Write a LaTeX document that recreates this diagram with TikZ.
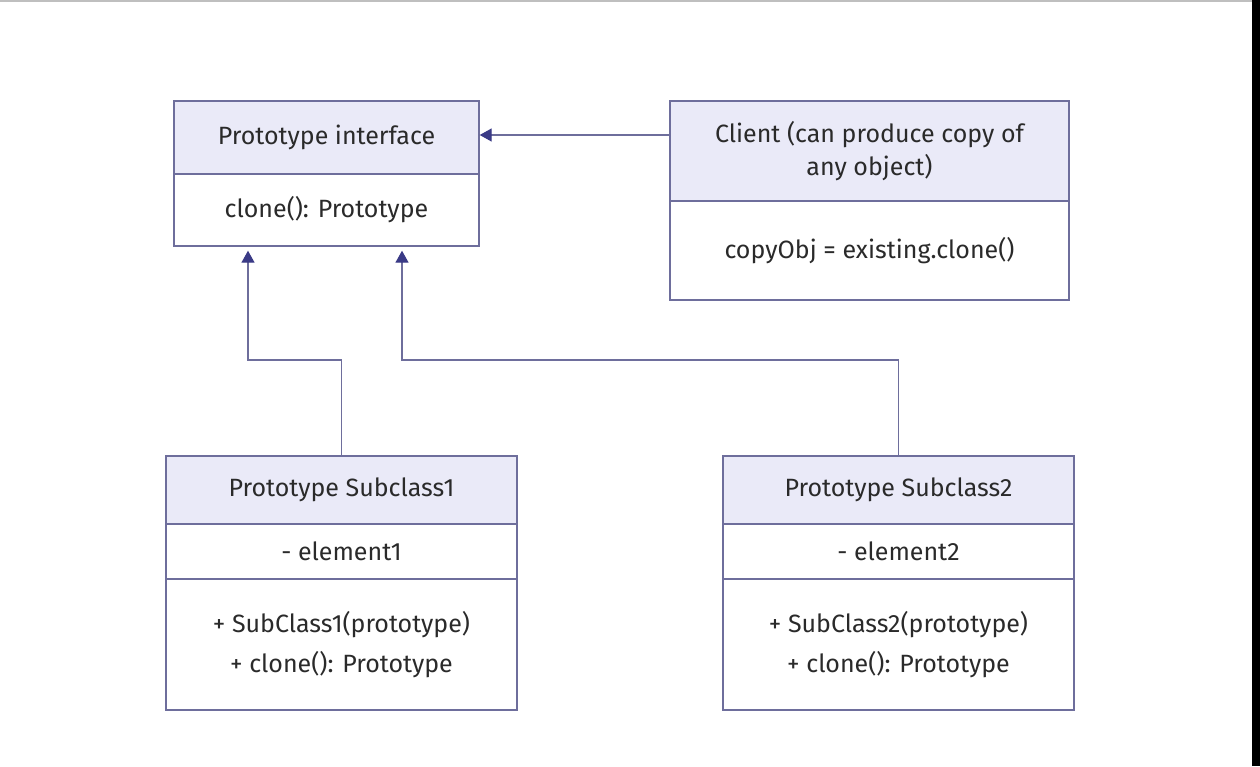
\documentclass[tikz,border=0pt]{standalone}
\usepackage{fontspec}
\setmainfont{Fira Sans}
\usetikzlibrary{arrows.meta}
\definecolor{umlline}{HTML}{6E6E9C}
\definecolor{umltip}{HTML}{3A3A86}
\definecolor{umlhead}{HTML}{EAEAF8}
\definecolor{umltext}{HTML}{2A2A2A}
\begin{document}
\begin{tikzpicture}[x=1pt, y=-1pt]
			\tikzset{umlbox/.style={draw=umlline, line width=1.4pt, fill=white,
						inner sep=0pt, align=center, text=umltext,
						font=\fontsize{25}{33}\selectfont}}
			\tikzset{umlhdr/.style={umlbox, fill=umlhead}}
			\tikzset{inh/.style={draw=umlline, line width=1.4pt,
						-{Triangle[length=12pt, width=13pt, fill=umltip, color=umltip]}}}

			% frame of the screenshot
			\useasboundingbox (0,0) rectangle (1260,766);
			\fill[white] (0,0) rectangle (1260,766);
			\fill[black!25] (0,0) rectangle (1252,1.5);
			\fill[black] (1252,0) rectangle (1260,766);

			% prototype interface
			\node[umlhdr, minimum width=305, minimum height=73] (ih) at (326.5,137.5) {Prototype interface};
			\node[umlbox, minimum width=305, minimum height=72] (ib) at (326.5,210) {clone(): Prototype};

			% client
			\node[umlhdr, minimum width=399, minimum height=100] (ch) at (869.5,151) {Client (can produce copy of\\any object)};
			\node[umlbox, minimum width=399, minimum height=99] (cb) at (869.5,250.5) {copyObj = existing.clone()};

			% subclasses
			\node[umlhdr, minimum width=351, minimum height=68] (s1h) at (341.5,490) {Prototype Subclass1};
			\node[umlbox, minimum width=351, minimum height=55] (s1a) at (341.5,551.5) {- element1};
			\node[umlbox, minimum width=351, minimum height=131, font=\fontsize{25}{40}\selectfont] (s1m) at (341.5,644.5) {+ SubClass1(prototype)\\+ clone(): Prototype};

			\node[umlhdr, minimum width=351, minimum height=68] (s2h) at (898.5,490) {Prototype Subclass2};
			\node[umlbox, minimum width=351, minimum height=55] (s2a) at (898.5,551.5) {- element2};
			\node[umlbox, minimum width=351, minimum height=131, font=\fontsize{25}{40}\selectfont] (s2m) at (898.5,644.5) {+ SubClass2(prototype)\\+ clone(): Prototype};

			% connectors
			\coordinate (k1) at (248,360);
			\coordinate (k2) at (402,360);
			\draw[inh] (ch.west |- 0,135) -- (ih.east |- 0,135);
			\draw[inh, shorten >=4pt] (s1h.north) |- (k1) -- (k1 |- ib.south);
			\draw[inh, shorten >=4pt] (s2h.north) |- (k2) -- (k2 |- ib.south);
		\end{tikzpicture}
\end{document}
